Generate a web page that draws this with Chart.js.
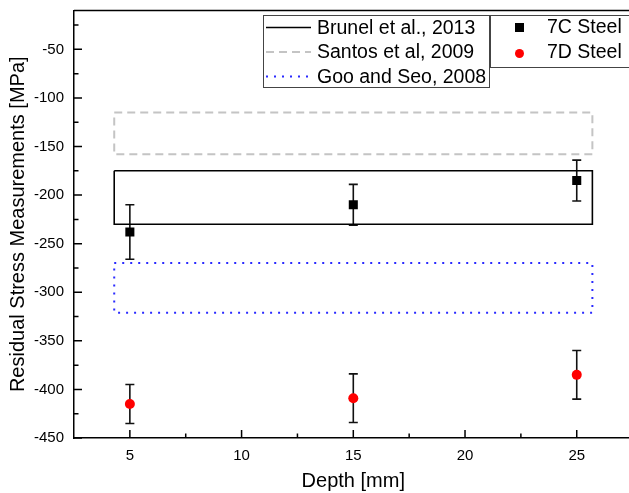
<!DOCTYPE html>
<html>
<head>
<meta charset="utf-8">
<script src="https://cdn.jsdelivr.net/npm/chart.js@4.4.0/dist/chart.umd.min.js"></script>
<style>
  html, body { margin: 0; padding: 0; background: #fff; overflow: hidden; }
  #wrap { width: 639px; height: 493px; }
</style>
</head>
<body>
<div id="wrap"><canvas id="stressChart" width="639" height="493"></canvas></div>
<script>
// ---- data ----
const depths  = [5, 15, 25];
const steel7C = [-238, -210, -185];
const err7C   = [28, 21, 21];
const steel7D = [-415, -409, -385];
const err7D   = [20, 25, 25];

// literature ranges (drawn as boxes spanning the depth range)
const bandX  = [4.3, 25.7];
const brunel = [-230, -175];
const santos = [-158, -115];
const goo    = [-321, -270];

const xTicks = [5, 10, 15, 20, 25];
const yTicks = [-450, -400, -350, -300, -250, -200, -150, -100, -50];

const FONT = "'Liberation Sans', Arial, sans-serif";

function boxPath(range) {
    return [
        { x: bandX[0], y: range[1] }, { x: bandX[1], y: range[1] },
        { x: bandX[1], y: range[0] }, { x: bandX[0], y: range[0] },
        { x: bandX[0], y: range[1] }
    ];
}
const pts = (vals) => depths.map((d, i) => ({ x: d, y: vals[i] }));

// error bars drawn just before the marker dataset
const errorBars = {
    id: 'errorBars',
    beforeDatasetDraw(chart, args) {
        const ds = chart.data.datasets[args.index];
        if (!ds.errors) return;
        const { ctx, scales: { x, y } } = chart;
        ctx.save();
        ctx.strokeStyle = '#111';
        ctx.lineWidth = 1.6;
        ds.data.forEach((p, i) => {
            const px = x.getPixelForValue(p.x);
            const top = y.getPixelForValue(p.y + ds.errors[i]);
            const bot = y.getPixelForValue(p.y - ds.errors[i]);
            ctx.beginPath();
            ctx.moveTo(px, top); ctx.lineTo(px, bot);
            ctx.moveTo(px - 4.5, top); ctx.lineTo(px + 4.5, top);
            ctx.moveTo(px - 4.5, bot); ctx.lineTo(px + 4.5, bot);
            ctx.stroke();
        });
        ctx.restore();
    }
};

// top frame line + inward ticks (major and minor)
const frame = {
    id: 'frame',
    afterDraw(chart) {
        const { ctx, chartArea: a, scales: { x, y } } = chart;
        ctx.save();
        ctx.strokeStyle = '#000';
        ctx.lineWidth = 1.5;
        ctx.beginPath();
        ctx.moveTo(a.left, a.top); ctx.lineTo(a.right, a.top);
        xTicks.forEach(v => {
            const px = x.getPixelForValue(v);
            ctx.moveTo(px, a.bottom); ctx.lineTo(px, a.bottom - 8);
            const mx = x.getPixelForValue(v + 2.5);
            ctx.moveTo(mx, a.bottom); ctx.lineTo(mx, a.bottom - 4.5);
        });
        yTicks.forEach(v => {
            const py = y.getPixelForValue(v);
            ctx.moveTo(a.left, py); ctx.lineTo(a.left + 8, py);
            const my = y.getPixelForValue(v + 25);
            ctx.moveTo(a.left, my); ctx.lineTo(a.left + 4.5, my);
        });
        ctx.stroke();
        ctx.restore();
    }
};

// the two framed legends in the upper right
const legends = {
    id: 'legends',
    afterDraw(chart) {
        const ctx = chart.ctx;
        ctx.save();
        ctx.font = '19.5px ' + FONT;
        ctx.textBaseline = 'middle';

        // left legend: literature ranges
        ctx.fillStyle = '#fff';
        ctx.fillRect(263.5, 15.5, 226, 72);
        ctx.strokeStyle = '#444';
        ctx.lineWidth = 1;
        ctx.strokeRect(263.5, 15.5, 226, 72);
        const rows = chart.data.datasets.filter(d => d.legendRow !== undefined);
        rows.forEach(d => {
            const cy = 27.5 + d.legendRow * 24.5;
            ctx.save();
            ctx.strokeStyle = d.borderColor;
            ctx.lineWidth = d.borderWidth;
            ctx.setLineDash(d.borderDash || []);
            ctx.beginPath();
            ctx.moveTo(266, cy); ctx.lineTo(311, cy);
            ctx.stroke();
            ctx.restore();
            ctx.fillStyle = '#000';
            ctx.fillText(d.label, 317, cy + 1);
        });

        // right legend: steels
        ctx.fillStyle = '#fff';
        ctx.fillRect(490.5, 15.5, 160, 52);
        ctx.strokeStyle = '#444';
        ctx.strokeRect(490.5, 15.5, 160, 52);
        ctx.fillStyle = '#000';
        ctx.fillRect(515, 23, 9, 9);
        ctx.fillText('7C Steel', 547, 28);
        ctx.fillStyle = '#ff0000';
        ctx.beginPath();
        ctx.arc(519.5, 53.5, 4.5, 0, Math.PI * 2);
        ctx.fill();
        ctx.fillStyle = '#000';
        ctx.fillText('7D Steel', 547, 53);
        ctx.restore();
    }
};

new Chart(document.getElementById('stressChart'), {
    type: 'scatter',
    data: {
        datasets: [
            {
                type: 'line', label: 'Brunel et al., 2013', legendRow: 0,
                data: boxPath(brunel), borderColor: '#000', borderWidth: 1.6,
                pointRadius: 0, fill: false, tension: 0, showLine: true
            },
            {
                type: 'line', label: 'Santos et al, 2009', legendRow: 1,
                data: boxPath(santos), borderColor: '#c4c4c4', borderWidth: 2,
                borderDash: [8, 5], pointRadius: 0, fill: false, tension: 0, showLine: true
            },
            {
                type: 'line', label: 'Goo and Seo, 2008', legendRow: 2,
                data: boxPath(goo), borderColor: '#2a2aff', borderWidth: 2,
                borderDash: [2, 6], pointRadius: 0, fill: false, tension: 0, showLine: true
            },
            {
                label: '7C Steel', data: pts(steel7C), errors: err7C,
                pointStyle: 'rect', pointRadius: 6.4, pointHoverRadius: 6.4,
                backgroundColor: '#000', borderColor: '#000', borderWidth: 0
            },
            {
                label: '7D Steel', data: pts(steel7D), errors: err7D,
                pointStyle: 'circle', pointRadius: 5, pointHoverRadius: 5,
                backgroundColor: '#ff0000', borderColor: '#ff0000', borderWidth: 0
            }
        ]
    },
    options: {
        responsive: false,
        animation: false,
        layout: { padding: { top: 10.5, right: 0, bottom: 0, left: 0 } },
        plugins: { legend: { display: false }, tooltip: { enabled: false } },
        scales: {
            x: {
                type: 'linear', min: 2.5, max: 27.5,
                afterBuildTicks: s => { s.ticks = xTicks.map(v => ({ value: v })); },
                afterFit: s => { s.height = 55; s.paddingLeft = 0; s.paddingRight = 0; },
                grid: { display: false, drawTicks: false },
                border: { color: '#000', width: 1.5 },
                ticks: { color: '#000', font: { family: FONT, size: 15 }, padding: 9 },
                title: {
                    display: true, text: 'Depth [mm]', color: '#000',
                    font: { family: FONT, size: 20 }, padding: { top: 0, bottom: 0 }
                }
            },
            y: {
                type: 'linear', min: -450, max: -10,
                afterBuildTicks: s => { s.ticks = yTicks.map(v => ({ value: v })); },
                afterFit: s => { s.width = 74; s.paddingTop = 0; s.paddingBottom = 0; },
                grid: { display: false, drawTicks: false },
                border: { color: '#000', width: 1.5 },
                ticks: { color: '#000', font: { family: FONT, size: 15 }, padding: 10 },
                title: {
                    display: true, text: 'Residual Stress Measurements [MPa]', color: '#000',
                    font: { family: FONT, size: 20 }, padding: { top: 6, bottom: 0 }
                }
            }
        }
    },
    plugins: [errorBars, frame, legends]
});
</script>
</body>
</html>
